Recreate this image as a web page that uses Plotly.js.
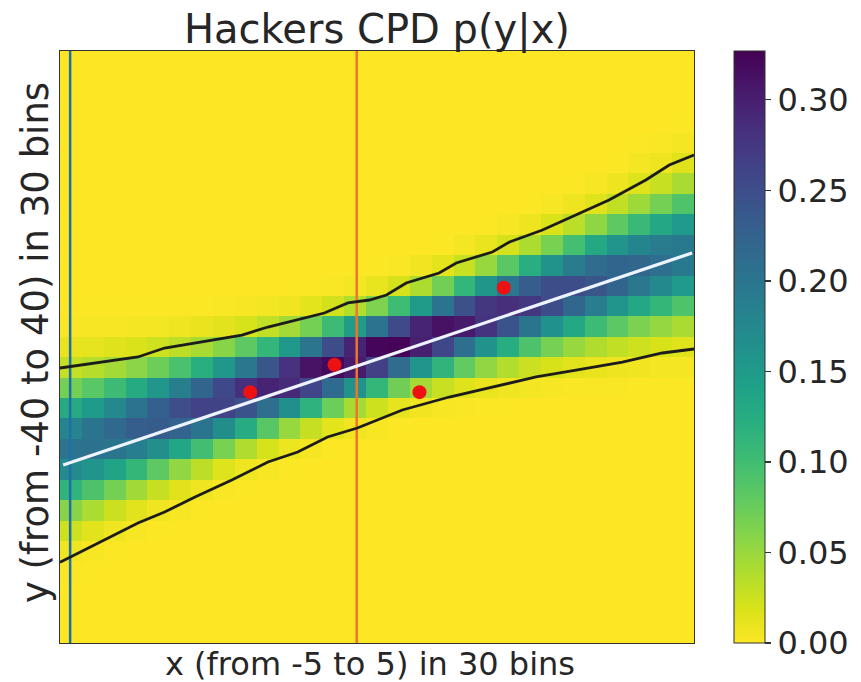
<!DOCTYPE html>
<html>
<head>
<meta charset="utf-8">
<script src="https://cdn.plot.ly/plotly-3.0.1.min.js"></script>
<style>
html,body{margin:0;padding:0;background:#ffffff;}
#chart{width:861px;height:682px;}
</style>
</head>
<body>
<div id="chart"></div>
<script>
// ---- axis grid (30 grid points per axis -> 29 visible cells) ----
const X_RANGE = [-5, 5];
const Y_RANGE = [-40, 40];
const N_GRID = 30;

// ---- CPD cell values, per x column: first non-zero y row (from bottom) and the values upward ----
const colStart = [3,3,4,5,5,6,6,7,7,8,8,9,9,10,10,10,11,11,11,11,11,12,12,12,12,12,12,12,12];
const colValues = [
  [0.002,0.007,0.024,0.059,0.115,0.172,0.201,0.181,0.127,0.069,0.029,0.010,0.002],
  [0.001,0.003,0.014,0.041,0.092,0.158,0.205,0.201,0.150,0.084,0.036,0.012,0.003,0.001],
  [0.001,0.007,0.025,0.069,0.137,0.201,0.218,0.175,0.103,0.045,0.015,0.003,0.001],
  [0.003,0.014,0.046,0.110,0.188,0.230,0.202,0.127,0.057,0.018,0.004,0.001],
  [0.001,0.007,0.028,0.081,0.165,0.233,0.228,0.155,0.073,0.024,0.005,0.001],
  [0.003,0.015,0.054,0.134,0.223,0.250,0.187,0.094,0.032,0.007,0.001],
  [0.001,0.007,0.032,0.099,0.201,0.263,0.222,0.121,0.043,0.010,0.001],
  [0.002,0.016,0.066,0.167,0.262,0.256,0.155,0.059,0.014,0.002],
  [0.001,0.007,0.039,0.126,0.244,0.283,0.196,0.081,0.020,0.003],
  [0.003,0.020,0.085,0.210,0.296,0.240,0.111,0.030,0.005],
  [0.001,0.009,0.051,0.164,0.289,0.281,0.152,0.045,0.007,0.001],
  [0.004,0.028,0.116,0.259,0.311,0.200,0.069,0.013,0.001],
  [0.001,0.013,0.074,0.213,0.320,0.251,0.103,0.022,0.002],
  [0.006,0.043,0.160,0.303,0.296,0.148,0.038,0.005],
  [0.003,0.024,0.110,0.264,0.323,0.202,0.064,0.011,0.001],
  [0.001,0.012,0.071,0.212,0.324,0.254,0.102,0.021,0.002],
  [0.006,0.044,0.159,0.299,0.294,0.150,0.040,0.006],
  [0.003,0.027,0.114,0.257,0.312,0.202,0.070,0.013,0.001],
  [0.002,0.016,0.079,0.209,0.305,0.247,0.111,0.027,0.004],
  [0.001,0.010,0.054,0.162,0.279,0.276,0.156,0.051,0.010,0.001],
  [0.001,0.007,0.037,0.123,0.242,0.284,0.199,0.084,0.021,0.003],
  [0.005,0.026,0.092,0.201,0.274,0.232,0.122,0.040,0.008,0.001],
  [0.003,0.019,0.068,0.163,0.251,0.249,0.160,0.066,0.018,0.003],
  [0.002,0.014,0.051,0.130,0.220,0.251,0.191,0.098,0.033,0.008,0.001],
  [0.002,0.010,0.039,0.103,0.189,0.240,0.212,0.130,0.055,0.016,0.003],
  [0.002,0.008,0.030,0.082,0.159,0.221,0.221,0.158,0.081,0.030,0.008,0.001],
  [0.001,0.006,0.024,0.065,0.132,0.198,0.219,0.179,0.107,0.048,0.016,0.004,0.001],
  [0.001,0.005,0.019,0.052,0.110,0.174,0.209,0.191,0.132,0.069,0.027,0.008,0.002],
  [0.001,0.004,0.015,0.042,0.091,0.151,0.195,0.195,0.151,0.091,0.042,0.015,0.004,0.001]
];
const zMax = 0.327;
const cbTicks = [0, 0.05, 0.10, 0.15, 0.20, 0.25, 0.30];

// ---- interval bounds (black), fitted line (white), data points (red), markers (vertical lines) ----
const upperX = [-5.0,-3.77,-3.35,-2.13,-1.72,-0.83,-0.46,-0.12,0.15,0.46,0.98,1.25,1.82,2.09,2.61,3.14,3.66,4.24,4.61,5.0];
const upperY = [-2.84,-1.35,-0.14,1.62,2.70,4.59,5.95,6.35,7.03,8.65,10.0,11.35,12.84,14.19,15.81,17.84,19.86,22.57,24.59,25.95];
const lowerX = [-5.0,-4.61,-4.24,-3.77,-3.35,-2.87,-2.29,-1.72,-1.25,-0.78,-0.31,0.12,0.40,1.14,1.82,2.51,3.14,3.87,4.50,5.0];
const lowerY = [-29.1,-27.43,-25.81,-23.78,-22.30,-20.27,-17.97,-15.54,-14.19,-12.16,-10.95,-9.46,-8.51,-6.76,-5.41,-4.05,-3.11,-2.03,-0.81,-0.27];
const fitX = [-4.95, 4.97];
const fitY = [-15.96, 12.71];
const dotX = [-2.0, -0.67, 0.67, 2.0];
const dotY = [-6.1, -2.4, -6.1, 8.0];
const blueLineX = -4.84;
const orangeLineX = -0.32;

// ---- build heatmap grid ----
const nCells = N_GRID - 1;
const xEdges = [], yEdges = [];
for (let k = 0; k < N_GRID; k++) {
  xEdges.push(X_RANGE[0] + k * (X_RANGE[1] - X_RANGE[0]) / (N_GRID - 1));
  yEdges.push(Y_RANGE[0] + k * (Y_RANGE[1] - Y_RANGE[0]) / (N_GRID - 1));
}
const z = [];
for (let r = 0; r < nCells; r++) z.push(new Array(nCells).fill(0));
colValues.forEach((vals, c) => {
  vals.forEach((v, k) => { z[colStart[c] + k][c] = v; });
});

const FONT = 'DejaVu Sans, Liberation Sans, sans-serif';
const TXT = '#262626';

const traces = [
  {
    type: 'heatmap', x: xEdges, y: yEdges, z: z,
    colorscale: 'Viridis', reversescale: true, zmin: 0, zmax: zMax,
    hoverinfo: 'skip',
    colorbar: {
      x: (734 - 60) / 635, xanchor: 'left', xpad: 0,
      y: 0.5, yanchor: 'middle', ypad: 0,
      len: 1, lenmode: 'fraction',
      thickness: 31, thicknessmode: 'pixels',
      outlinewidth: 1, outlinecolor: '#333333',
      tickmode: 'array', tickvals: cbTicks,
      ticktext: cbTicks.map(v => v.toFixed(2)),
      ticks: 'outside', ticklen: 6, tickwidth: 1.2, tickcolor: '#333333',
      tickfont: {family: FONT, size: 32, color: TXT}
    }
  },
  {type: 'scatter', mode: 'lines', x: [blueLineX, blueLineX], y: Y_RANGE,
   line: {color: '#1f6fa8', width: 2.5}, hoverinfo: 'skip'},
  {type: 'scatter', mode: 'lines', x: [orangeLineX, orangeLineX], y: Y_RANGE,
   line: {color: '#f0742a', width: 2.5}, hoverinfo: 'skip'},
  {type: 'scatter', mode: 'lines', x: upperX, y: upperY,
   line: {color: '#1c1c1c', width: 2.8}, hoverinfo: 'skip'},
  {type: 'scatter', mode: 'lines', x: lowerX, y: lowerY,
   line: {color: '#1c1c1c', width: 2.8}, hoverinfo: 'skip'},
  {type: 'scatter', mode: 'lines', x: fitX, y: fitY,
   line: {color: '#eef4ff', width: 3.2}, hoverinfo: 'skip'},
  {type: 'scatter', mode: 'markers', x: dotX, y: dotY,
   marker: {color: '#ee1111', size: 14}, hoverinfo: 'skip'}
];

const layout = {
  width: 861, height: 682,
  margin: {l: 60, r: 166, t: 51, b: 39, pad: 0},
  paper_bgcolor: '#ffffff', plot_bgcolor: '#ffffff',
  showlegend: false,
  font: {family: FONT, color: TXT},
  title: {
    text: 'Hackers CPD p(y|x)',
    font: {family: FONT, size: 40, color: TXT},
    xref: 'paper', x: 0.5, xanchor: 'center',
    yref: 'container', y: 1 - 29 / 682, yanchor: 'middle'
  },
  xaxis: {
    range: X_RANGE, showticklabels: false, ticks: '', showgrid: false, zeroline: false,
    showline: true, mirror: true, linecolor: '#333333', linewidth: 1, fixedrange: true
  },
  yaxis: {
    range: Y_RANGE, showticklabels: false, ticks: '', showgrid: false, zeroline: false,
    showline: true, mirror: true, linecolor: '#333333', linewidth: 1, fixedrange: true
  },
  annotations: [
    {text: 'x (from -5 to 5) in 30 bins', xref: 'paper', yref: 'paper',
     x: (370 - 60) / 635, y: (643 - 664) / 592, xanchor: 'center', yanchor: 'middle',
     showarrow: false, font: {family: FONT, size: 32, color: TXT}},
    {text: 'y (from -40 to 40) in 30 bins', xref: 'paper', yref: 'paper',
     x: (35 - 60) / 635, y: (643 - 343) / 592, xanchor: 'center', yanchor: 'middle',
     textangle: -90, showarrow: false, font: {family: FONT, size: 37, color: TXT}}
  ]
};

Plotly.newPlot('chart', traces, layout, {staticPlot: true, displayModeBar: false});
</script>
</body>
</html>
